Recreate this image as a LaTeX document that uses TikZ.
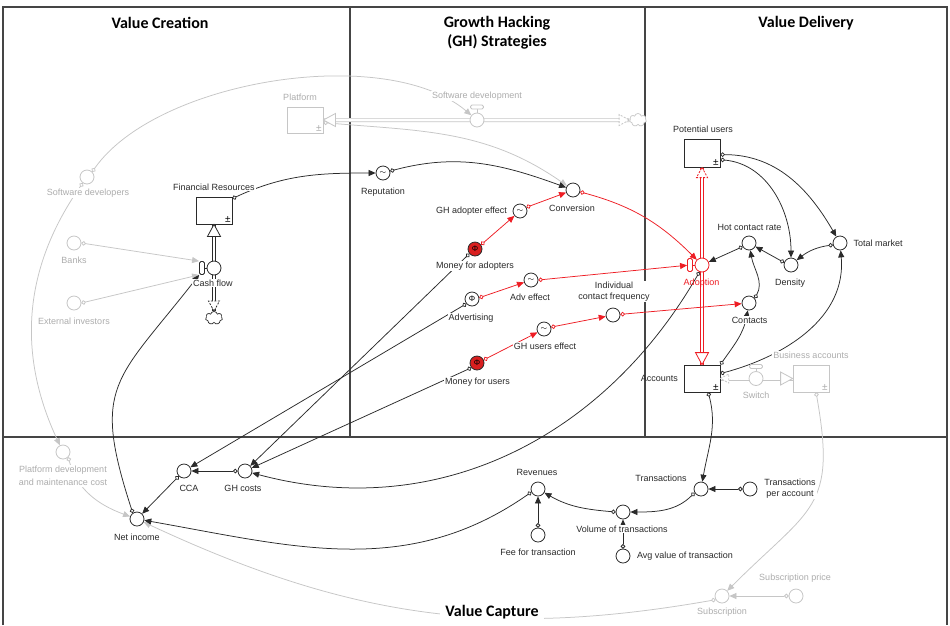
\documentclass[tikz,border=0pt]{standalone}
\usepackage{fontspec}
\setmainfont{Liberation Sans}
\newfontfamily\ttlfont{Carlito}
\usetikzlibrary{arrows.meta,shapes.symbols,calc}
\pgfdeclarelayer{back}
\pgfdeclarelayer{wires}
\pgfsetlayers{back,wires,main}
\definecolor{ink}{HTML}{2A2A2A}
\definecolor{rd}{HTML}{EE1D24}
\definecolor{mred}{HTML}{D91F1F}
\definecolor{gl}{HTML}{C6C6C6}
\definecolor{gt}{HTML}{ADADAD}
\definecolor{fr}{HTML}{454545}
\newcommand{\lblfont}{\fontsize{9}{11.5}\selectfont}
\newcommand{\ttlfnt}{\ttlfont\bfseries\fontsize{16}{19}\selectfont}
\newcommand{\gfsym}{\raisebox{-1.5pt}{\fontsize{8}{8}\selectfont$\sim$}}
\newcommand{\phisym}{{\fontsize{8}{8}\selectfont Φ}}
\tikzset{
  conv/.style={circle,draw=ink,fill=white,minimum size=14pt,inner sep=0pt,line width=0.8pt},
  stockbox/.style={rectangle,draw=ink,fill=white,minimum width=36pt,minimum height=27pt,inner sep=0pt,line width=0.8pt},
  lbl/.style={font=\lblfont,text=ink,inner sep=1pt,fill=white},
  ttl/.style={font=\ttlfnt,text=black,inner sep=1pt,align=center},
  glbl/.style={lbl,text=gt},
  gconv/.style={conv,draw=gl},
  gstock/.style={stockbox,draw=gl},
  pm/.style={font=\fontsize{10}{10}\selectfont,inner sep=1.5pt,anchor=south east},
  conn/.style={draw=ink,line width=0.75pt,arrows={Circle[length=4.5pt,width=4.5pt,fill=white]-Triangle[length=7pt,width=6pt]}},
  rconn/.style={conn,draw=rd},
  gconn/.style={conn,draw=gl},
  pipe/.style={draw=#1,double=white,double distance=2.6pt,line width=0.7pt},
  handlev/.style={rectangle,rounded corners=1.5pt,draw=ink,fill=white,minimum width=5pt,minimum height=13pt,inner sep=0pt,line width=0.8pt},
  handleh/.style={rectangle,rounded corners=1.5pt,draw=gl,fill=white,minimum width=13pt,minimum height=4pt,inner sep=0pt,line width=0.8pt},
  cloudy/.style={cloud,cloud puffs=7,aspect=1.3,draw=#1,fill=white,minimum width=17pt,minimum height=13pt,inner sep=0pt,line width=0.7pt},
  fhead/.pic={\draw[fill=white,line width=0.8pt,line join=miter] (0,0) -- (-12,6.5) -- (-12,-6.5) -- cycle;},
}
\begin{document}
\begin{tikzpicture}[x=1pt,y=-1pt]
\useasboundingbox (0,0) rectangle (950,625);
\begin{pgfonlayer}{back}
\fill[white] (0,0) rectangle (950,625);
\draw[fr,line width=1.4pt] (3,625) -- (3,7) -- (947,7) -- (947,625);
\draw[fr,line width=1.4pt] (3,437) -- (947,437);
\draw[fr,line width=1.2pt] (350,7) -- (350,437);
\draw[fr,line width=1.2pt] (645,7) -- (645,437);
\end{pgfonlayer}

% titles
\node[ttl] (t1) at (160,23) {Value Creation};
\node[ttl] (t2) at (497,33) {Growth Hacking\\(GH) Strategies};
\node[ttl] (t3) at (806,23) {Value Delivery};
\node[ttl,fill=white,inner xsep=5pt] (t4) at (492,612) {Value Capture};

% ---- Value creation
\node[gstock,minimum height=26pt] (platform) at (305,120) {};
\node[pm,text=gt] (pmpl) at (platform.south east) {±};
\node[glbl] (lplat) at (300,97) {Platform};
\node[gconv] (swdevs) at (87,177) {};
\node[glbl] (lswdevs) at (88,193) {Software developers};
\node[gconv] (banks) at (74,243) {};
\node[glbl] (lbanks) at (74,260) {Banks};
\node[gconv] (extinv) at (74,303) {};
\node[glbl] (lextinv) at (74,321) {External investors};
\node[stockbox] (finres) at (214,210.5) {};
\node[pm] (pmfin) at (finres.south east) {±};
\node[lbl] (lfinres) at (214,187) {Financial Resources};
\node[cloudy=ink] (cloud1) at (214,318) {};
\node[conv] (cash) at (214,268) {};
\node[handlev] (cashh) at (202,268) {};
\node[lbl] (lcash) at (213,283) {Cash flow};
\node[gconv] (pdev) at (63,452) {};
\node[glbl,align=center,font=\fontsize{9}{13}\selectfont] (lpdev) at (63,476) {Platform development\\and maintenance cost};
\node[conv] (netinc) at (137,519) {};
\node[lbl] (lnetinc) at (137,537) {Net income};
\node[conv] (cca) at (184,471) {};
\node[lbl] (lcca) at (189,488) {CCA};
\node[conv] (ghcost) at (245,471) {};
\node[lbl] (lghcost) at (243,488) {GH costs};

% ---- Growth hacking
\node[gconv] (swdev) at (477,120) {};
\node[handleh] (swdevh) at (477,107) {};
\node[glbl] (lswdev) at (477,96) {Software development};
\node[cloudy=gl] (cloud2) at (638,120) {};
\node[conv] (rep) at (383,173) {\gfsym};
\node[lbl] (lrep) at (383,192) {Reputation};
\node[conv] (conversion) at (573,190) {};
\node[lbl] (lconv) at (572,208) {Conversion};
\node[conv] (ghadopt) at (520,211) {\gfsym};
\node[lbl] (lghadopt) at (471.5,211) {GH adopter effect};
\node[conv,fill=mred] (m4a) at (475,249) {\phisym};
\node[lbl] (lm4a) at (475,266) {Money for adopters};
\node[conv] (adv) at (472,299) {\phisym};
\node[lbl] (ladv) at (471,318) {Advertising};
\node[conv] (adveff) at (531,280) {\gfsym};
\node[lbl] (ladveff) at (530,297) {Adv effect};
\node[conv,fill=mred] (m4u) at (477,363) {\phisym};
\node[lbl] (lm4u) at (477.5,382) {Money for users};
\node[conv] (ghusers) at (544,329) {\gfsym};
\node[lbl] (lghusers) at (545,346) {GH users effect};
\node[conv] (icf) at (613,315) {};
\node[lbl,align=center,font=\fontsize{9}{11}\selectfont] (licf) at (614,291.5) {Individual\\contact frequency};

% ---- Value delivery
\node[stockbox,minimum height=28pt] (potusers) at (702,153) {};
\node[pm] (pmpot) at (potusers.south east) {±};
\node[lbl] (lpot) at (703,129) {Potential users};
\node[conv,draw=rd] (adopt) at (702,265) {};
\node[handlev,draw=rd] (adopth) at (690,265) {};
\node[lbl,fill=none,text=rd] (ladopt) at (701.5,283) {Adoption};
\node[conv] (hotcr) at (749,243) {};
\node[lbl] (lhotcr) at (749.5,227) {Hot contact rate};
\node[conv] (density) at (791,265) {};
\node[lbl] (ldensity) at (790,283) {Density};
\node[conv] (totmkt) at (840,243) {};
\node[lbl] (ltotmkt) at (878,243) {Total market};
\node[conv] (contacts) at (749,303) {};
\node[lbl] (lcontacts) at (749.5,320) {Contacts};
\node[stockbox] (accounts) at (702,378.5) {};
\node[pm] (pmacc) at (accounts.south east) {±};
\node[lbl,fill=none,anchor=east] (lacc) at (679,378) {Accounts};
\node[gconv] (switch) at (756,378.5) {};
\node[handleh] (switchh) at (756,366.5) {};
\node[glbl] (lswitch) at (756,395) {Switch};
\node[gstock] (busacc) at (811,378.5) {};
\node[pm,text=gt] (pmbus) at (busacc.south east) {±};
\node[glbl] (lbusacc) at (811,355) {Business accounts};

% ---- Value capture
\node[conv] (rev) at (538,489) {};
\node[lbl] (lrev) at (537,472) {Revenues};
\node[conv] (fee) at (538,535) {};
\node[lbl] (lfee) at (538,552) {Fee for transaction};
\node[conv] (vol) at (623,512) {};
\node[lbl] (lvol) at (622,529) {Volume of transactions};
\node[conv] (avg) at (623,556) {};
\node[lbl] (lavg) at (685,556) {Avg value of transaction};
\node[conv] (trans) at (701,489) {};
\node[lbl] (ltrans) at (661,478) {Transactions};
\node[conv] (tpa) at (750,489) {};
\node[lbl,align=center,font=\fontsize{9}{11}\selectfont] (ltpa) at (790,488.5) {Transactions\\per account};
\node[gconv] (subscr) at (722,596) {};
\node[glbl] (lsubscr) at (722,612) {Subscription};
\node[gconv] (subprice) at (796,596) {};
\node[glbl] (lsubprice) at (795,578) {Subscription price};

\begin{pgfonlayer}{wires}
% pipes
\draw[pipe=ink] (cloud1.north) -- (finres.south);
\draw[pipe=gl] (cloud2.west) -- (platform.east);
\draw[pipe=rd] (potusers.south) -- (accounts.north);
\draw[pipe=gl] (accounts.east) -- (busacc.west);
\draw[ink,line width=0.8pt] (cashh.east) -- (cash.west);
\draw[rd,line width=0.8pt] (adopth.east) -- (adopt.west);
\draw[gl,line width=0.8pt] (swdevh.south) -- (swdev.north);
\draw[gl,line width=0.8pt] (switchh.south) -- (switch.north);
% gray connectors
\draw[gconn] (swdevs.45) to[out=55,in=140,looseness=0.75] (swdev);
\draw[gconn] (swdevs.235) to[out=235,in=115] (pdev);
\draw[gconn] (pdev.-45) to[out=-75,in=160] (netinc);
\draw[gconn] (platform.-8) to[out=-5,in=145] (conversion);
\draw[gconn] (banks.0) -- (cashh.north west);
\draw[gconn] (extinv.0) -- (cashh.south west);
\draw[gconn] (subscr.210) to[out=190,in=-25] (netinc);
\draw[gconn] (subprice.180) -- (subscr);
\draw[gconn] (busacc.-70) to[out=-80,in=45,looseness=1.4] (subscr);
% black connectors
\draw[conn] (finres.33) to[out=25,in=180] (rep);
\draw[conn] (rep.15) to[out=15,in=160] (conversion);
\draw[conn] (m4a.220) -- (ghcost);
\draw[conn] (adv.220) -- (cca);
\draw[conn] (m4u.220) -- (ghcost);
\draw[conn] (adopt.250) to[out=240,in=-15] (ghcost);
\draw[conn] (ghcost.180) -- (cca);
\draw[conn] (cca.225) -- (netinc);
\draw[conn] (netinc.125) to[out=108,in=232,looseness=1.4] (cashh.south west);
\draw[conn] (rev.205) to[out=215,in=-10] (netinc);
\draw[conn] (vol.180) to[out=175,in=-30] (rev);
\draw[conn] (fee.90) -- (rev);
\draw[conn] (avg.90) -- (vol);
\draw[conn] (trans.210) to[out=225,in=0] (vol);
\draw[conn] (tpa.180) -- (trans);
\draw[conn] (accounts.-66) to[out=-75,in=80] (trans);
\draw[conn] (accounts.north east) to[out=55,in=-100] (contacts);
\draw[conn] (accounts.15) to[out=15,in=-85] (totmkt);
\draw[conn] (potusers.-20) to[out=-5,in=90] (density);
\draw[conn] (potusers.-5) to[out=0,in=120] (totmkt);
\draw[conn] (totmkt.195) to[bend right=15] (density);
\draw[conn] (density.160) -- (hotcr);
\draw[conn] (contacts.40) to[out=60,in=-80] (hotcr);
\draw[conn] (hotcr.210) -- (adopt);
% red connectors
\draw[rconn] (conversion.-15) to[out=-15,in=135] (adopt);
\draw[rconn] (ghadopt.30) -- (conversion);
\draw[rconn] (m4a.35) -- (ghadopt);
\draw[rconn] (adv.10) -- (adveff);
\draw[rconn] (adveff.0) -- (adopth);
\draw[rconn] (m4u.25) -- (ghusers);
\draw[rconn] (ghusers.15) -- (icf);
\draw[rconn] (icf.5) -- (contacts);
\end{pgfonlayer}

% flow heads
\pic[ink,rotate=90] at (finres.south) {fhead};
\pic[ink,rotate=-90,dash pattern=on 2pt off 1.5pt,scale=0.85] at (cloud1.north) {fhead};
\pic[gl,rotate=180] at (platform.east) {fhead};
\pic[gl,rotate=0,dash pattern=on 2pt off 1.5pt,scale=0.85] at (cloud2.west) {fhead};
\pic[rd,rotate=-90] at (accounts.north) {fhead};
\pic[rd,rotate=90,dash pattern=on 2pt off 1.5pt,scale=0.85] at (potusers.south) {fhead};
\pic[gl,rotate=0] at (busacc.west) {fhead};
\pic[gl,rotate=180,dash pattern=on 2pt off 1.5pt,scale=0.7] at (accounts.east) {fhead};
\end{tikzpicture}
\end{document}
